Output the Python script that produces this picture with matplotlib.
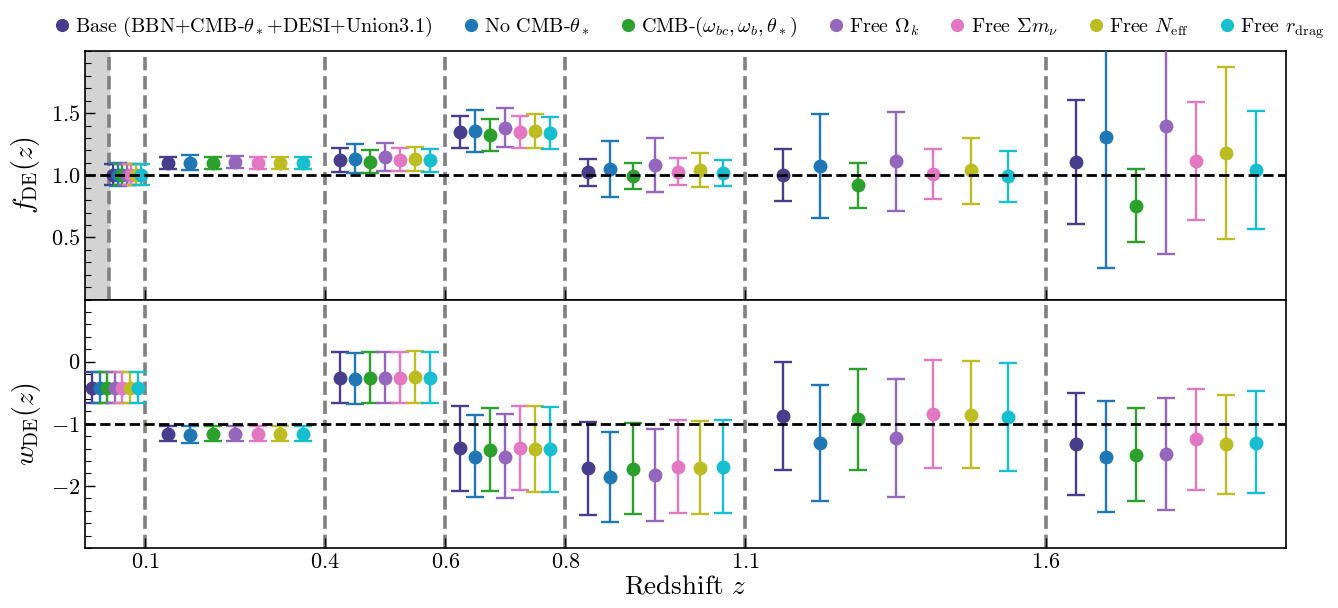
import numpy as np
import matplotlib
matplotlib.use("Agg")
import matplotlib.pyplot as plt
from matplotlib.lines import Line2D
from matplotlib.ticker import MultipleLocator

plt.rcParams.update({
    "font.family": "serif",
    "font.serif": ["cmr10"],
    "mathtext.fontset": "cm",
    "axes.formatter.use_mathtext": True,
    "axes.linewidth": 1.2,
    "xtick.direction": "in",
    "ytick.direction": "in",
})

# -----------------------------
# Data
# -----------------------------
models = [
    "Base (BBN+CMB-$\\theta_*$+DESI+Union3.1)",
    "No CMB-$\\theta_*$",
    "CMB-$(\\omega_{bc},\\omega_b,\\theta_*)$",
    "Free $\\Omega_k$",
    "Free $\\Sigma m_\\nu$",
    "Free $N_{\\rm eff}$",
    "Free $r_{\\rm drag}$",
]
colors = ["darkslateblue", "tab:blue", "tab:green", "tab:purple",
          "tab:pink", "tab:olive", "tab:cyan"]

f_edges = [0.04, 0.1, 0.4, 0.6, 0.8, 1.1, 1.6, 2.0]
w_edges = [0.0, 0.1, 0.4, 0.6, 0.8, 1.1, 1.6, 2.0]
z_ticks = [0.1, 0.4, 0.6, 0.8, 1.1, 1.6]

# rows = models, columns = redshift bins
f_mid = [
    [1.00, 1.100, 1.125, 1.345, 1.023, 1.004, 1.106],
    [1.00, 1.100, 1.133, 1.353, 1.052, 1.077, 1.308],
    [1.00, 1.100, 1.109, 1.327, 0.998, 0.923, 0.754],
    [1.00, 1.105, 1.147, 1.378, 1.085, 1.114, 1.397],
    [1.00, 1.100, 1.125, 1.345, 1.028, 1.012, 1.117],
    [1.00, 1.100, 1.133, 1.353, 1.044, 1.039, 1.179],
    [1.00, 1.100, 1.120, 1.340, 1.018, 0.993, 1.044],
]
f_hi = [
    [1.09, 1.150, 1.216, 1.474, 1.135, 1.208, 1.603],
    [1.10, 1.160, 1.248, 1.523, 1.278, 1.490, 2.350],
    [1.09, 1.150, 1.206, 1.456, 1.103, 1.103, 1.047],
    [1.09, 1.155, 1.256, 1.539, 1.302, 1.510, 2.420],
    [1.09, 1.150, 1.222, 1.477, 1.141, 1.214, 1.593],
    [1.09, 1.150, 1.227, 1.490, 1.181, 1.297, 1.873],
    [1.09, 1.150, 1.214, 1.469, 1.127, 1.195, 1.515],
]
f_lo = [
    [0.92, 1.050, 1.028, 1.216, 0.913, 0.797, 0.609],
    [0.91, 1.040, 1.018, 1.184, 0.827, 0.657, 0.252],
    [0.92, 1.050, 1.018, 1.198, 0.889, 0.740, 0.466],
    [0.92, 1.055, 1.036, 1.224, 0.869, 0.716, 0.364],
    [0.92, 1.050, 1.034, 1.222, 0.918, 0.810, 0.641],
    [0.92, 1.050, 1.031, 1.219, 0.902, 0.773, 0.486],
    [0.92, 1.050, 1.023, 1.208, 0.910, 0.786, 0.571],
]

w_mid = [
    [-0.42, -1.164, -0.260, -1.394, -1.715, -0.870, -1.324],
    [-0.42, -1.185, -0.281, -1.528, -1.865, -1.313, -1.533],
    [-0.42, -1.164, -0.260, -1.421, -1.731, -0.923, -1.496],
    [-0.42, -1.164, -0.260, -1.528, -1.822, -1.223, -1.485],
    [-0.42, -1.164, -0.260, -1.394, -1.693, -0.848, -1.249],
    [-0.42, -1.164, -0.255, -1.410, -1.715, -0.859, -1.329],
    [-0.42, -1.164, -0.260, -1.410, -1.693, -0.891, -1.303],
]
w_hi = [
    [-0.17, -1.035, 0.152, -0.714, -0.971, -0.003, -0.506],
    [-0.17, -1.030, 0.140, -0.864, -1.137, -0.382, -0.639],
    [-0.17, -1.035, 0.152, -0.741, -0.993, -0.120, -0.746],
    [-0.17, -1.035, 0.152, -0.848, -1.083, -0.276, -0.586],
    [-0.17, -1.035, 0.152, -0.714, -0.939, 0.019, -0.436],
    [-0.17, -1.035, 0.165, -0.720, -0.960, 0.008, -0.533],
    [-0.17, -1.035, 0.152, -0.735, -0.939, -0.024, -0.469],
]
w_lo = [
    [-0.67, -1.276, -0.666, -2.079, -2.469, -1.742, -2.148],
    [-0.67, -1.310, -0.687, -2.186, -2.581, -2.250, -2.427],
    [-0.67, -1.276, -0.666, -2.090, -2.459, -1.742, -2.250],
    [-0.67, -1.276, -0.666, -2.200, -2.560, -2.175, -2.384],
    [-0.67, -1.276, -0.666, -2.070, -2.443, -1.710, -2.063],
    [-0.67, -1.276, -0.666, -2.100, -2.459, -1.715, -2.132],
    [-0.67, -1.276, -0.666, -2.100, -2.437, -1.758, -2.122],
]

# -----------------------------
# Figure
# -----------------------------
fig, (ax_f, ax_w) = plt.subplots(2, 1, sharex=True, figsize=(13.38, 6.08), dpi=100)
fig.subplots_adjust(left=0.0635, right=0.961, top=0.916, bottom=0.0987, hspace=0)

n_mod = len(models)


def draw_panel(ax, edges, mid, hi, lo):
    edges = np.asarray(edges)
    for i in range(n_mod):
        x = edges[:-1] + (i + 1) * np.diff(edges) / (n_mod + 1)
        m = np.asarray(mid[i])
        err = [m - np.asarray(lo[i]), np.asarray(hi[i]) - m]
        ax.errorbar(x, m, yerr=err, fmt="o", color=colors[i], ms=9,
                    elinewidth=1.7, capsize=6.5, capthick=1.7, zorder=3)
    for e in edges[:-1]:
        if e > 0:
            ax.axvline(e, color="gray", lw=2.6, ls="--", zorder=1)


draw_panel(ax_f, f_edges, f_mid, f_hi, f_lo)
draw_panel(ax_w, w_edges, w_mid, w_hi, w_lo)

ax_f.axvspan(0.0, f_edges[0], color="lightgray", zorder=0)
ax_f.axhline(1.0, color="black", lw=2.0, ls="--", zorder=5)
ax_w.axhline(-1.0, color="black", lw=2.0, ls="--", zorder=5)

ax_f.set_ylim(0, 2)
ax_f.set_yticks([0.5, 1.0, 1.5])
ax_f.yaxis.set_minor_locator(MultipleLocator(0.1))
ax_w.set_ylim(-3, 1)
ax_w.set_yticks([-2, -1, 0])
ax_w.yaxis.set_minor_locator(MultipleLocator(0.2))

ax_w.set_xlim(0, 2.0)
ax_w.set_xticks(z_ticks)

for ax in (ax_f, ax_w):
    ax.tick_params(axis="both", which="major", labelsize=16, length=7, width=1.0)
    ax.tick_params(axis="y", which="minor", length=4, width=0.8)
    ax.tick_params(axis="x", which="minor", bottom=False)

ax_f.set_ylabel(r"$f_{\rm DE}(z)$", fontsize=20, labelpad=6)
ax_w.set_ylabel(r"$w_{\rm DE}(z)$", fontsize=20, labelpad=6)
ax_w.set_xlabel(r"Redshift $z$", fontsize=19.5, labelpad=2)

handles = [Line2D([], [], ls="none", marker="o", ms=8.5, color=c) for c in colors]
fig.legend(handles, models, loc="upper center", bbox_to_anchor=(0.515, 1.005),
           ncol=n_mod, frameon=False, fontsize=14.5, handletextpad=0.25,
           columnspacing=1.5, handlelength=0.8)

fig.savefig("out.png", dpi=100)
